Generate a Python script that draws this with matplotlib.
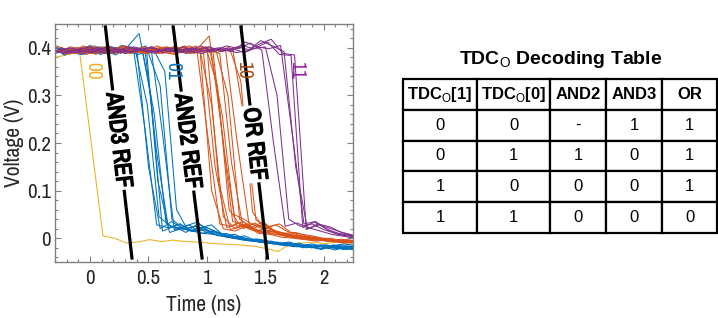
import numpy as np
import matplotlib
matplotlib.use('Agg')
import matplotlib.pyplot as plt
import matplotlib.patheffects as pe
from matplotlib.ticker import MultipleLocator, FixedLocator, FixedFormatter

plt.rcParams['font.family'] = ['Archivo Narrow', 'DejaVu Sans']
plt.rcParams['mathtext.fontset'] = 'custom'
plt.rcParams['mathtext.rm'] = 'Liberation Sans'
plt.rcParams['mathtext.bf'] = 'Liberation Sans:bold'

# ---------------- waveform data (mV), sampled every 0.1 ns from -0.3 ns ----------------
t_start = -0.3
dt = 0.1

yellow_shift = [0.01]
yellow_mv = [
    [380, 386, 392, 200, 5, 0, -10, -8, -3, -7, -4, -7, -8, -10, -12, -13, -15, -17, -22, -28, -12, -10, -8, -12, -8, -10, -12],
]

blue_shift = [-0.03, 0.00, 0.02, 0.05, 0.07, 0.10, 0.12, 0.14, -0.01, 0.08]
blue_mv = [
    [395, 388, 398, 390, 402, 392, 396, 400, 230, 28, 22, 30, 15, 10, 8, 2, 0, -5, -8, -12, -15, -12, -18, -14, -16, -12, -15],
    [388, 396, 392, 405, 394, 400, 388, 398, 150, 20, 35, 18, 25, 12, 5, 6, -2, -6, -10, -8, -14, -18, -20, -15, -22, -18, -14],
    [400, 392, 386, 398, 396, 385, 402, 430, 300, 15, 25, 12, 30, 20, 8, 0, -4, -2, -8, -12, -10, -16, -14, -20, -18, -22, -16],
    [392, 400, 395, 388, 404, 398, 393, 392, 260, 32, 18, 28, 10, 15, 6, 4, -3, -8, -6, -14, -12, -20, -16, -22, -14, -20, -18],
    [386, 394, 402, 396, 390, 405, 398, 395, 180, 22, 30, 14, 22, 8, 10, -2, -6, -4, -10, -15, -18, -14, -22, -18, -24, -16, -20],
    [398, 390, 396, 402, 388, 394, 400, 388, 320, 40, 20, 25, 16, 12, 4, 2, -4, -10, -12, -8, -16, -12, -18, -25, -16, -20, -14],
    [390, 398, 388, 394, 400, 392, 386, 402, 220, 18, 26, 34, 12, 10, 0, 5, -5, -6, -14, -10, -20, -18, -14, -20, -22, -18, -24],
    [396, 386, 400, 392, 396, 402, 394, 398, 350, 60, 15, 22, 28, 6, 8, -3, -2, -8, -10, -18, -14, -22, -20, -16, -24, -22, -18],
    [402, 394, 390, 398, 386, 396, 404, 392, 280, 45, 25, 20, 14, 18, 6, 3, 1, -6, -4, -12, -16, -10, -20, -18, -15, -24, -20],
    [384, 400, 394, 388, 398, 390, 396, 404, 120, 12, 20, 16, 24, 14, 2, -1, -5, -9, -12, -10, -18, -16, -24, -14, -20, -16, -22],
]

orange_shift = [0.01, 0.04, 0.07, 0.09, 0.02, 0.05, 0.08, 0.00, 0.03, 0.06, 0.09, 0.01, 0.12, 0.04]
orange_mv = [
    [390, 396, 400, 392, 398, 388, 402, 394, 398, 392, 400, 396, 404, 210, 30, 25, 35, 18, 12, 8, 4, 2, -2, -4, -6, -8, -5],
    [394, 388, 398, 404, 392, 396, 390, 400, 394, 402, 388, 398, 395, 280, 45, 20, 28, 14, 10, 6, 2, 0, -4, -2, -8, -6, -10],
    [398, 392, 386, 396, 402, 394, 398, 388, 404, 396, 392, 400, 390, 150, 22, 32, 18, 12, 15, 4, 6, -3, -1, -6, -10, -4, -8],
    [386, 400, 394, 390, 396, 404, 392, 398, 390, 400, 396, 388, 402, 320, 60, 25, 20, 30, 12, 8, 0, 2, -5, -8, -4, -12, -6],
    [392, 398, 390, 402, 388, 396, 400, 392, 398, 388, 404, 392, 398, 425, 240, 35, 28, 15, 22, 10, 6, 3, -2, 0, -6, -4, -9],
    [400, 390, 396, 386, 400, 394, 388, 402, 396, 392, 398, 404, 392, 396, 180, 25, 30, 12, 18, 8, 2, 4, -3, -6, -2, -8, -5],
    [388, 396, 402, 394, 390, 398, 392, 388, 400, 396, 390, 396, 400, 392, 300, 40, 22, 35, 15, 10, 5, 0, -2, -5, -9, -6, -10],
    [396, 392, 388, 400, 394, 390, 404, 396, 388, 400, 394, 390, 398, 402, 120, 18, 26, 20, 12, 14, 3, -1, -4, -2, -7, -10, -6],
    [390, 402, 396, 392, 388, 400, 396, 394, 402, 390, 386, 400, 396, 390, 260, 50, 38, 24, 16, 8, 6, 2, -3, -6, -4, -10, -8],
    [398, 394, 390, 396, 404, 388, 398, 392, 396, 402, 394, 388, 400, 396, 394, 200, 30, 26, 18, 10, 12, 4, -2, 0, -6, -8, -4],
    [392, 388, 400, 394, 396, 402, 390, 398, 388, 396, 400, 392, 398, 390, 402, 330, 55, 20, 28, 14, 6, 2, 0, -5, -3, -9, -7],
    [404, 396, 392, 388, 398, 394, 400, 390, 398, 392, 396, 404, 390, 396, 388, 160, 20, 32, 16, 12, 8, -1, 3, -4, -7, -5, -11],
    [386, 398, 394, 402, 390, 396, 392, 400, 394, 388, 398, 396, 402, 392, 398, 250, 38, 24, 30, 12, 8, 4, -2, -6, -4, -8, -10],
    [396, 390, 404, 396, 388, 398, 394, 392, 400, 396, 390, 394, 398, 100, 20, 15, 26, 10, 8, 2, 0, -3, -6, -4, -9, -7, -5],
]

purple_shift = [-0.03, 0.03, 0.06, 0.05, 0.00, 0.02]
purple_mv = [
    [392, 398, 390, 396, 400, 388, 394, 402, 396, 392, 398, 390, 400, 394, 396, 404, 398, 410, 395, 200, 25, 32, 22, 15, 8, 4, 0],
    [396, 390, 400, 394, 388, 398, 392, 396, 402, 390, 394, 398, 396, 392, 400, 396, 412, 402, 398, 405, 220, 30, 35, 18, 10, 5, -2],
    [388, 396, 392, 400, 396, 390, 398, 394, 388, 400, 396, 392, 388, 398, 394, 402, 396, 415, 404, 392, 150, 20, 28, 20, 12, 6, 2],
    [400, 392, 388, 394, 402, 396, 390, 396, 392, 398, 390, 396, 404, 392, 398, 390, 394, 408, 418, 388, 385, 18, 30, 24, 12, 5, 0],
    [394, 388, 396, 402, 392, 398, 388, 394, 400, 396, 392, 402, 390, 396, 400, 392, 405, 398, 402, 300, 40, 25, 30, 18, 10, 6, 2],
    [390, 400, 394, 390, 398, 392, 402, 396, 390, 394, 400, 388, 396, 402, 392, 398, 390, 400, 412, 386, 384, 22, 34, 20, 8, 4, -3],
]

trace_colors = {'yellow': '#EDB120', 'blue': '#0072BD', 'orange': '#D95319', 'purple': '#7E2F8E'}

# reference lines (ns at top / bottom of the line)
ref_labels = ['AND3 REF', 'AND2 REF', 'OR REF']
ref_t_top = [0.13, 0.71, 1.29]
ref_t_bottom = [0.36, 0.96, 1.52]
ref_v_top = 0.447
ref_v_bottom = -0.045
ref_label_v = [0.206, 0.204, 0.198]

code_labels = ['00', '01', '10', '11']
code_t = [0.02, 0.71, 1.31, 1.77]
code_v = [0.352, 0.352, 0.354, 0.354]
code_colors = ['#EDB120', '#0072BD', '#A64A10', '#9B1F9F']

# table
table_header = ['TDC$_\\mathrm{O}$[1]', 'TDC$_\\mathrm{O}$[0]', 'AND2', 'AND3', 'OR']
table_rows = [
    ['0', '0', '-', '1', '1'],
    ['0', '1', '1', '0', '1'],
    ['1', '0', '0', '0', '1'],
    ['1', '1', '0', '0', '0'],
]

# ---------------- figure ----------------
W, H = 718, 318
fig = plt.figure(figsize=(W / 100, H / 100), dpi=100)
ax = fig.add_axes([55 / W, 1 - 262 / H, (353 - 55) / W, (262 - 24) / H])

def draw_group(shifts, traces, color):
    for s, v in zip(shifts, traces):
        t = t_start + s + dt * np.arange(len(v))
        ax.plot(t, np.asarray(v) / 1000.0, color=color, lw=0.75, solid_joinstyle='miter')

draw_group(yellow_shift, yellow_mv, trace_colors['yellow'])
draw_group(blue_shift, blue_mv, trace_colors['blue'])
draw_group(orange_shift, orange_mv, trace_colors['orange'])
draw_group(purple_shift, purple_mv, trace_colors['purple'])

ax.set_xlim(-0.3, 2.25)
ax.set_ylim(-0.05, 0.45)

for lab, tt, tb, lv in zip(ref_labels, ref_t_top, ref_t_bottom, ref_label_v):
    ax.plot([tt, tb], [ref_v_top, ref_v_bottom], color='black', lw=2.3, solid_capstyle='butt', zorder=5)
    frac = (ref_v_top - lv) / (ref_v_top - ref_v_bottom)
    lt = tt + frac * (tb - tt)
    p1 = ax.transData.transform((tt, ref_v_top))
    p2 = ax.transData.transform((tb, ref_v_bottom))
    ang = np.degrees(np.arctan2(p2[1] - p1[1], p2[0] - p1[0]))
    ax.text(lt, lv, lab, rotation=ang, rotation_mode='anchor', ha='center', va='center',
            fontsize=17, fontweight='bold', color='black', zorder=6,
            bbox=dict(facecolor='white', edgecolor='none', pad=1.5),
            path_effects=[pe.withStroke(linewidth=1.1, foreground='black')])

for lab, tt, vv, cc in zip(code_labels, code_t, code_v, code_colors):
    ax.text(tt, vv, lab, rotation=-90, ha='center', va='center', fontsize=14, color=cc, zorder=6)

ax.xaxis.set_major_locator(FixedLocator([0, 0.5, 1, 1.5, 2]))
ax.xaxis.set_major_formatter(FixedFormatter(['0', '0.5', '1', '1.5', '2']))
ax.yaxis.set_major_locator(FixedLocator([0, 0.1, 0.2, 0.3, 0.4]))
ax.yaxis.set_major_formatter(FixedFormatter(['0', '0.1', '0.2', '0.3', '0.4']))
ax.xaxis.set_minor_locator(MultipleLocator(0.1))
ax.yaxis.set_minor_locator(MultipleLocator(0.02))
ax.tick_params(which='both', direction='in', top=True, right=True, color='#808080', width=0.8)
ax.tick_params(which='major', length=4.5, labelsize=15, labelcolor='#262626')
ax.tick_params(which='minor', length=2.5)
ax.tick_params(axis='x', which='major', pad=5)
ax.tick_params(axis='y', which='major', pad=3)
for sp in ax.spines.values():
    sp.set_color('#808080')
    sp.set_linewidth(1.0)
ax.set_xlabel('Time (ns)', fontsize=15.5, color='#262626', labelpad=5)
ax.set_ylabel('Voltage (V)', fontsize=15.5, color='#262626', labelpad=2)

# ---------------- table ----------------
fig.text(561 / W, 1 - 64 / H, 'TDC$_\\mathrm{O}$ Decoding Table', ha='center', va='baseline',
         fontsize=14, fontweight='bold', family='Liberation Sans')

tax = fig.add_axes([403 / W, 1 - 233 / H, (717 - 403) / W, (233 - 79) / H])
tax.axis('off')
col_px = [74, 73, 56, 56, 55]
col_w = [c / sum(col_px) for c in col_px]
tbl = tax.table(cellText=[table_header] + table_rows, colWidths=col_w, bbox=[0, 0, 1, 1],
                cellLoc='center')
tbl.auto_set_font_size(False)
tbl.set_fontsize(12)
for (r, c), cell in tbl.get_celld().items():
    cell.set_linewidth(1.6)
    cell.set_edgecolor('black')
    cell.get_text().set_family('Liberation Sans')
    if r == 0:
        cell.get_text().set_fontweight('bold')

fig.savefig('out.png', dpi=100)
